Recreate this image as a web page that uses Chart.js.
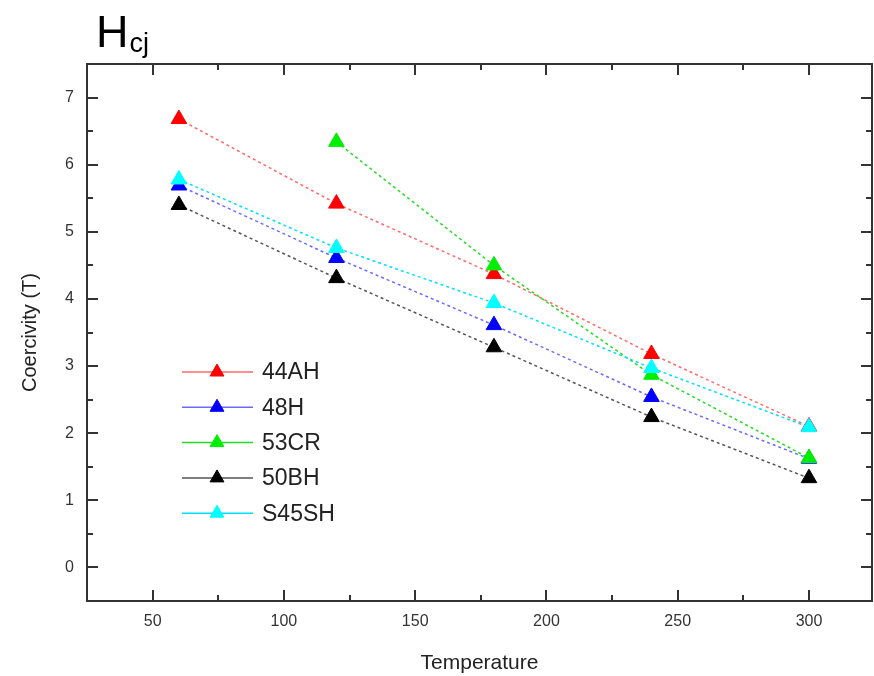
<!DOCTYPE html>
<html>
<head>
<meta charset="utf-8">
<script src="https://cdn.jsdelivr.net/npm/chart.js@4.4.1/dist/chart.umd.min.js"></script>
<style>
  html, body { margin: 0; padding: 0; background: #fff; }
  canvas { display: block; }
</style>
</head>
<body>
<canvas id="graphique" width="874" height="676"></canvas>
<script>
// Coercivité en fonction de la température, pour chaque nuance d'aimant
const temperatures = [60, 120, 180, 240, 300];
const nuances = ['44AH', '48H', '53CR', '50BH', 'S45SH'];
const coerc44AH = [6.68, 5.42, 4.37, 3.18, 2.10];
const coerc48H = [5.69, 4.61, 3.61, 2.54, 1.62];
const coerc53CR = [null, 6.34, 4.50, 2.87, 1.63];
const coerc50BH = [5.40, 4.31, 3.28, 2.24, 1.33];
const coercS45SH = [5.78, 4.76, 3.94, 2.97, 2.09];

const xTicks = [50, 100, 150, 200, 250, 300];
const xMinorTicks = [75, 125, 175, 225, 275];
const yTicks = [0, 1, 2, 3, 4, 5, 6, 7];
const yMinorTicks = [0.5, 1.5, 2.5, 3.5, 4.5, 5.5, 6.5];

const police = '"Liberation Sans", Arial, sans-serif';

function serie(valeurs) {
    // Associe chaque valeur à sa température, en sautant les mesures absentes
    return temperatures
        .map((t, i) => ({ x: t, y: valeurs[i] }))
        .filter(p => p.y !== null);
}

function jeu(nom, valeurs, marqueur, trait, ordre) {
    return {
        label: nom,
        data: serie(valeurs),
        borderColor: trait,
        backgroundColor: marqueur,
        borderWidth: 1.5,
        borderDash: [3, 3],
        pointStyle: 'triangle',
        pointRadius: 9,
        pointBackgroundColor: marqueur,
        pointBorderColor: marqueur,
        pointBorderWidth: 1,
        order: ordre,
    };
}

// Cadre fermé, graduations tournées vers l'intérieur sur les quatre côtés
const cadre = {
    id: 'cadre',
    afterDraw(chart) {
        const { ctx, chartArea: a, scales } = chart;
        ctx.save();
        ctx.strokeStyle = '#333';
        ctx.lineWidth = 2;
        ctx.strokeRect(a.left, a.top, a.right - a.left, a.bottom - a.top);
        const trait = (x1, y1, x2, y2) => {
            ctx.beginPath();
            ctx.moveTo(x1, y1);
            ctx.lineTo(x2, y2);
            ctx.stroke();
        };
        const graduer = (valeurs, long) => valeurs.forEach(v => {
            const x = Math.round(scales.x.getPixelForValue(v));
            trait(x, a.bottom, x, a.bottom - long);
            trait(x, a.top, x, a.top + long);
        });
        const graduerY = (valeurs, long) => valeurs.forEach(v => {
            const y = Math.round(scales.y.getPixelForValue(v));
            trait(a.left, y, a.left + long, y);
            trait(a.right, y, a.right - long, y);
        });
        graduer(xTicks, 11);
        graduer(xMinorTicks, 6);
        graduerY(yTicks, 11);
        graduerY(yMinorTicks, 6);
        ctx.restore();
    },
};

// Légende : trait clair, triangle au milieu, puis le nom de la nuance
const legende = {
    id: 'legende',
    afterDatasetsDraw(chart) {
        const { ctx } = chart;
        ctx.save();
        chart.data.datasets.forEach((ds, i) => {
            const y = 372 + i * 35.3;
            ctx.strokeStyle = ds.borderColor;
            ctx.lineWidth = 1.5;
            ctx.setLineDash([]);
            ctx.beginPath();
            ctx.moveTo(182, y);
            ctx.lineTo(253, y);
            ctx.stroke();
            ctx.fillStyle = ds.pointBackgroundColor;
            ctx.strokeStyle = ds.pointBorderColor;
            ctx.lineWidth = 1;
            Chart.helpers.drawPoint(ctx, { pointStyle: 'triangle', radius: 8, borderWidth: 1 }, 217, y);
            ctx.fillStyle = '#222';
            ctx.font = '23px ' + police;
            ctx.textBaseline = 'middle';
            ctx.textAlign = 'left';
            ctx.fillText(ds.label, 262, y + 1);
        });
        ctx.restore();
    },
};

// Titre H avec l'indice cj
const titre = {
    id: 'titre',
    afterDraw(chart) {
        const { ctx } = chart;
        ctx.save();
        ctx.fillStyle = '#000';
        ctx.textBaseline = 'alphabetic';
        ctx.font = '45px ' + police;
        ctx.fillText('H', 96, 47);
        const l = ctx.measureText('H').width;
        ctx.font = '27px ' + police;
        ctx.fillText('cj', 96 + l + 1, 52);
        ctx.restore();
    },
};

const valeurs = [coerc44AH, coerc48H, coerc53CR, coerc50BH, coercS45SH];
const marqueurs = ['#ff0000', '#0000ff', '#00ee00', '#000000', '#00ffff'];
const traits = ['#ff6a6a', '#6a6aff', '#22dd22', '#555555', '#00e0ff'];
const ordres = [4, 3, 1, 2, 0];

new Chart(document.getElementById('graphique'), {
    type: 'line',
    data: {
        datasets: nuances.map((n, i) => jeu(n, valeurs[i], marqueurs[i], traits[i], ordres[i])),
    },
    options: {
        responsive: false,
        animation: false,
        layout: { autoPadding: false, padding: { top: 64, right: 2, left: 0, bottom: 0 } },
        plugins: {
            legend: { display: false },
            tooltip: { enabled: false },
        },
        scales: {
            x: {
                type: 'linear',
                min: 25,
                max: 324,
                afterBuildTicks: s => { s.ticks = xTicks.map(v => ({ value: v })); },
                afterFit: s => { s.height = 75; s.paddingLeft = 0; s.paddingRight = 0; },
                grid: { display: false, drawTicks: false },
                border: { display: false },
                ticks: { font: { family: police, size: 16 }, color: '#333', padding: 11, maxRotation: 0 },
                title: {
                    display: true,
                    text: 'Temperature',
                    color: '#222',
                    font: { family: police, size: 21 },
                    padding: { top: 0, bottom: 0 },
                },
            },
            y: {
                type: 'linear',
                min: -0.5,
                max: 7.5,
                afterBuildTicks: s => { s.ticks = yTicks.map(v => ({ value: v })); },
                afterFit: s => { s.width = 87; s.paddingTop = 0; s.paddingBottom = 0; },
                grid: { display: false, drawTicks: false },
                border: { display: false },
                ticks: { font: { family: police, size: 16 }, color: '#333', padding: 13 },
                title: {
                    display: true,
                    text: 'Coercivity (T)',
                    color: '#222',
                    font: { family: police, size: 20 },
                    padding: { top: 18, bottom: 0 },
                },
            },
        },
    },
    plugins: [cadre, legende, titre],
});
</script>
</body>
</html>
